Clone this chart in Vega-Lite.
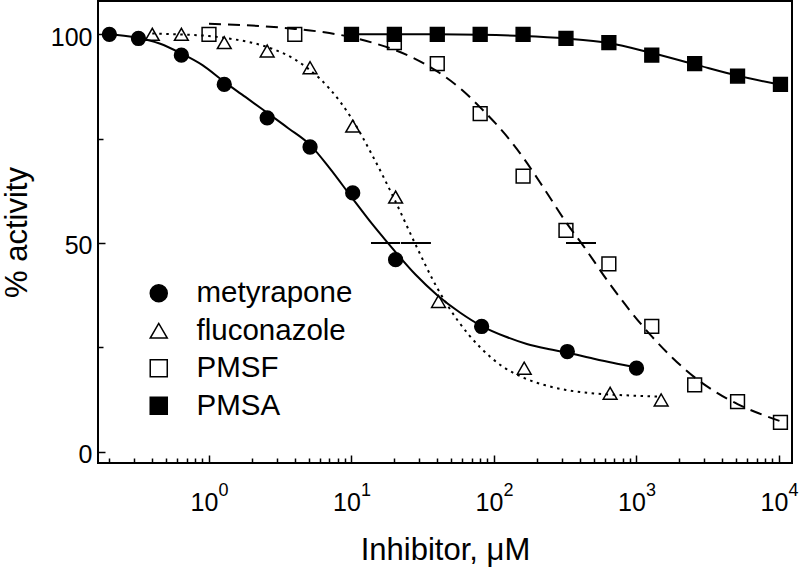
{
  "$schema": "https://vega.github.io/schema/vega-lite/v6.json",
  "width": 694,
  "height": 462,
  "autosize": {"type": "none"},
  "padding": {"left": 98, "top": 1, "right": 8, "bottom": 117},
  "background": "white",
  "config": {
    "font": "Liberation Sans",
    "view": {"stroke": "black", "strokeWidth": 2},
    "axis": {
      "domain": false, "grid": false, "tickColor": "black", "tickWidth": 1.5,
      "labelColor": "black", "titleColor": "black", "labelFont": "Liberation Sans",
      "labelFontSize": 25, "titleFont": "Liberation Sans", "titleFontWeight": "normal",
      "labelFlush": false, "labelOverlap": false, "labelBound": false
    },
    "legend": {
      "orient": "none", "legendX": 46, "legendY": 277.5, "padding": 0,
      "symbolSize": 290, "symbolStrokeColor": "black", "symbolStrokeWidth": 1.5, "symbolOpacity": 1,
      "labelFontSize": 29.5, "labelFont": "Liberation Sans", "labelColor": "black",
      "rowPadding": 6.5, "labelOffset": 23
    }
  },
  "datasets": {
    "points": [
      {"series": "metyrapone", "conc": 0.2, "pct": 100},
      {"series": "metyrapone", "conc": 0.32, "pct": 99},
      {"series": "metyrapone", "conc": 0.64, "pct": 95},
      {"series": "metyrapone", "conc": 1.28, "pct": 88},
      {"series": "metyrapone", "conc": 2.56, "pct": 80},
      {"series": "metyrapone", "conc": 5.12, "pct": 73},
      {"series": "metyrapone", "conc": 10.2, "pct": 62},
      {"series": "metyrapone", "conc": 20.4, "pct": 46},
      {"series": "metyrapone", "conc": 81.9, "pct": 30},
      {"series": "metyrapone", "conc": 327, "pct": 24},
      {"series": "metyrapone", "conc": 1000, "pct": 20},
      {"series": "fluconazole", "conc": 0.4, "pct": 100},
      {"series": "fluconazole", "conc": 0.64, "pct": 100},
      {"series": "fluconazole", "conc": 1.28, "pct": 98},
      {"series": "fluconazole", "conc": 2.56, "pct": 96},
      {"series": "fluconazole", "conc": 5.12, "pct": 92},
      {"series": "fluconazole", "conc": 10.2, "pct": 78},
      {"series": "fluconazole", "conc": 20.4, "pct": 61},
      {"series": "fluconazole", "conc": 40.8, "pct": 36},
      {"series": "fluconazole", "conc": 163, "pct": 20},
      {"series": "fluconazole", "conc": 653, "pct": 14},
      {"series": "fluconazole", "conc": 1490, "pct": 12.4},
      {"series": "PMSF", "conc": 1, "pct": 100},
      {"series": "PMSF", "conc": 4, "pct": 100},
      {"series": "PMSF", "conc": 20, "pct": 98},
      {"series": "PMSF", "conc": 40, "pct": 93},
      {"series": "PMSF", "conc": 80, "pct": 81},
      {"series": "PMSF", "conc": 160, "pct": 66},
      {"series": "PMSF", "conc": 320, "pct": 53},
      {"series": "PMSF", "conc": 640, "pct": 45},
      {"series": "PMSF", "conc": 1280, "pct": 30},
      {"series": "PMSF", "conc": 2560, "pct": 16},
      {"series": "PMSF", "conc": 5120, "pct": 12},
      {"series": "PMSF", "conc": 10240, "pct": 7},
      {"series": "PMSA", "conc": 10, "pct": 100},
      {"series": "PMSA", "conc": 20, "pct": 100},
      {"series": "PMSA", "conc": 40, "pct": 100},
      {"series": "PMSA", "conc": 80, "pct": 100},
      {"series": "PMSA", "conc": 160, "pct": 100},
      {"series": "PMSA", "conc": 320, "pct": 99},
      {"series": "PMSA", "conc": 640, "pct": 98},
      {"series": "PMSA", "conc": 1280, "pct": 95},
      {"series": "PMSA", "conc": 2560, "pct": 93},
      {"series": "PMSA", "conc": 5120, "pct": 90},
      {"series": "PMSA", "conc": 10240, "pct": 88}
    ],
    "curves": [
      {"series": "metyrapone", "conc": 0.2, "pct": 100},
      {"series": "metyrapone", "conc": 0.3, "pct": 99.3},
      {"series": "metyrapone", "conc": 0.45, "pct": 97.8},
      {"series": "metyrapone", "conc": 0.64, "pct": 95.4},
      {"series": "metyrapone", "conc": 0.9, "pct": 92.6},
      {"series": "metyrapone", "conc": 1.28, "pct": 88.6},
      {"series": "metyrapone", "conc": 1.8, "pct": 85},
      {"series": "metyrapone", "conc": 2.56, "pct": 81.2},
      {"series": "metyrapone", "conc": 3.6, "pct": 77.5},
      {"series": "metyrapone", "conc": 5.12, "pct": 73.5},
      {"series": "metyrapone", "conc": 7, "pct": 68},
      {"series": "metyrapone", "conc": 10, "pct": 61},
      {"series": "metyrapone", "conc": 14, "pct": 54.5},
      {"series": "metyrapone", "conc": 18, "pct": 50},
      {"series": "metyrapone", "conc": 20.4, "pct": 47.8},
      {"series": "metyrapone", "conc": 28, "pct": 42.5},
      {"series": "metyrapone", "conc": 40, "pct": 37.5},
      {"series": "metyrapone", "conc": 58, "pct": 33.3},
      {"series": "metyrapone", "conc": 82, "pct": 30.1},
      {"series": "metyrapone", "conc": 120, "pct": 27.6},
      {"series": "metyrapone", "conc": 170, "pct": 25.8},
      {"series": "metyrapone", "conc": 240, "pct": 24.6},
      {"series": "metyrapone", "conc": 330, "pct": 23.7},
      {"series": "metyrapone", "conc": 470, "pct": 22.5},
      {"series": "metyrapone", "conc": 680, "pct": 21.3},
      {"series": "metyrapone", "conc": 1000, "pct": 20.2},
      {"series": "fluconazole", "conc": 0.4, "pct": 100.2},
      {"series": "fluconazole", "conc": 0.7, "pct": 99.9},
      {"series": "fluconazole", "conc": 1, "pct": 99.6},
      {"series": "fluconazole", "conc": 1.5, "pct": 98.8},
      {"series": "fluconazole", "conc": 2, "pct": 98},
      {"series": "fluconazole", "conc": 3, "pct": 96.1},
      {"series": "fluconazole", "conc": 4, "pct": 94},
      {"series": "fluconazole", "conc": 5.12, "pct": 91.4},
      {"series": "fluconazole", "conc": 7, "pct": 87},
      {"series": "fluconazole", "conc": 10, "pct": 79.9},
      {"series": "fluconazole", "conc": 14, "pct": 71},
      {"series": "fluconazole", "conc": 20, "pct": 60.5},
      {"series": "fluconazole", "conc": 28, "pct": 49.8},
      {"series": "fluconazole", "conc": 40, "pct": 39.2},
      {"series": "fluconazole", "conc": 56, "pct": 31.3},
      {"series": "fluconazole", "conc": 80, "pct": 25},
      {"series": "fluconazole", "conc": 115, "pct": 20.4},
      {"series": "fluconazole", "conc": 162, "pct": 17.7},
      {"series": "fluconazole", "conc": 230, "pct": 15.9},
      {"series": "fluconazole", "conc": 320, "pct": 14.8},
      {"series": "fluconazole", "conc": 450, "pct": 14.1},
      {"series": "fluconazole", "conc": 645, "pct": 13.7},
      {"series": "fluconazole", "conc": 1000, "pct": 13.4},
      {"series": "fluconazole", "conc": 1490, "pct": 13.2},
      {"series": "PMSF", "conc": 1, "pct": 102.5},
      {"series": "PMSF", "conc": 2, "pct": 102.1},
      {"series": "PMSF", "conc": 4, "pct": 101.3},
      {"series": "PMSF", "conc": 7, "pct": 100.3},
      {"series": "PMSF", "conc": 10, "pct": 99.3},
      {"series": "PMSF", "conc": 15, "pct": 97.7},
      {"series": "PMSF", "conc": 20, "pct": 96.3},
      {"series": "PMSF", "conc": 30, "pct": 93.6},
      {"series": "PMSF", "conc": 40, "pct": 91.1},
      {"series": "PMSF", "conc": 60, "pct": 86.6},
      {"series": "PMSF", "conc": 80, "pct": 82.5},
      {"series": "PMSF", "conc": 120, "pct": 76},
      {"series": "PMSF", "conc": 160, "pct": 70.5},
      {"series": "PMSF", "conc": 230, "pct": 62.5},
      {"series": "PMSF", "conc": 320, "pct": 55},
      {"series": "PMSF", "conc": 420, "pct": 49.5},
      {"series": "PMSF", "conc": 640, "pct": 40.5},
      {"series": "PMSF", "conc": 900, "pct": 33.8},
      {"series": "PMSF", "conc": 1290, "pct": 27.5},
      {"series": "PMSF", "conc": 1800, "pct": 22.4},
      {"series": "PMSF", "conc": 2560, "pct": 17.8},
      {"series": "PMSF", "conc": 3600, "pct": 14.3},
      {"series": "PMSF", "conc": 5120, "pct": 11.4},
      {"series": "PMSF", "conc": 7200, "pct": 9.2},
      {"series": "PMSF", "conc": 10240, "pct": 7.3},
      {"series": "PMSA", "conc": 10, "pct": 100},
      {"series": "PMSA", "conc": 20, "pct": 100},
      {"series": "PMSA", "conc": 40, "pct": 100},
      {"series": "PMSA", "conc": 80, "pct": 99.9},
      {"series": "PMSA", "conc": 160, "pct": 99.6},
      {"series": "PMSA", "conc": 320, "pct": 99},
      {"series": "PMSA", "conc": 640, "pct": 97.9},
      {"series": "PMSA", "conc": 1280, "pct": 95.5},
      {"series": "PMSA", "conc": 2560, "pct": 92.8},
      {"series": "PMSA", "conc": 5120, "pct": 90.1},
      {"series": "PMSA", "conc": 10240, "pct": 87.9}
    ],
    "ic50": [
      {"series": "metyrapone", "lo": 13.7, "hi": 21.9, "pct": 50},
      {"series": "fluconazole", "lo": 22.2, "hi": 36.1, "pct": 50},
      {"series": "PMSF", "lo": 320, "hi": 520, "pct": 50}
    ]
  },
  "resolve": {"axis": {"x": "independent", "y": "independent"}},
  "layer": [
    {
      "data": {"name": "points"},
      "mark": {"type": "point", "filled": true, "stroke": "black", "strokeWidth": 1.5, "size": 190, "opacity": 1},
      "encoding": {
        "x": {
          "field": "conc", "type": "quantitative",
          "scale": {"type": "log", "domain": [0.1664, 12340], "nice": false},
          "axis": {
            "orient": "bottom",
            "values": [0.2, 0.3, 0.4, 0.5, 0.6, 0.7, 0.8, 0.9, 2, 3, 4, 5, 6, 7, 8, 9, 20, 30, 40, 50, 60, 70, 80, 90, 200, 300, 400, 500, 600, 700, 800, 900, 2000, 3000, 4000, 5000, 6000, 7000, 8000, 9000],
            "tickSize": -5, "labels": false, "title": null
          }
        },
        "y": {
          "field": "pct", "type": "quantitative",
          "scale": {"domain": [-2.71, 107.98], "nice": false, "zero": false},
          "axis": {"orient": "left", "values": [25, 75], "tickSize": -5, "labels": false, "title": null}
        },
        "shape": {
          "field": "series", "type": "nominal", "title": null,
          "scale": {"domain": ["metyrapone", "fluconazole", "PMSF", "PMSA"], "range": ["circle", "triangle-up", "square", "square"]},
          "legend": {"encode": {"symbols": {"update": {"stroke": {"value": "black"}, "strokeWidth": {"value": 1.5}, "opacity": {"value": 1}}}}}
        },
        "fill": {
          "field": "series", "type": "nominal", "title": null,
          "scale": {"domain": ["metyrapone", "fluconazole", "PMSF", "PMSA"], "range": ["black", "white", "white", "black"]},
          "legend": {"encode": {"symbols": {"update": {"stroke": {"value": "black"}, "strokeWidth": {"value": 1.5}, "opacity": {"value": 1}}}}}
        }
      }
    },
    {
      "data": {"name": "curves"},
      "transform": [{"filter": "datum.series == 'metyrapone' || datum.series == 'PMSA'"}],
      "mark": {"type": "line", "color": "black", "strokeWidth": 2, "interpolate": "monotone"},
      "encoding": {
        "x": {
          "field": "conc", "type": "quantitative",
          "scale": {"type": "log", "domain": [0.1664, 12340], "nice": false},
          "axis": {
            "orient": "bottom", "values": [1, 10, 100, 1000, 10000], "tickSize": -8,
            "labelExpr": "'10'", "labelPadding": 35, "labelOffset": -5, "labelBaseline": "top",
            "title": "Inhibitor, μM", "titleFontSize": 31, "titlePadding": 20
          }
        },
        "y": {
          "field": "pct", "type": "quantitative",
          "scale": {"domain": [-2.71, 107.98], "nice": false, "zero": false},
          "axis": {
            "orient": "left", "values": [0, 50, 100], "tickSize": -7,
            "labelPadding": 13, "labelOffset": 3,
            "title": "% activity", "titleFontSize": 31, "titlePadding": 17
          }
        },
        "detail": {"field": "series", "type": "nominal"}
      }
    },
    {
      "data": {"name": "curves"},
      "transform": [{"filter": "datum.series == 'fluconazole'"}],
      "mark": {"type": "line", "color": "black", "strokeWidth": 2, "strokeDash": [2.5, 4.5], "interpolate": "monotone"},
      "encoding": {
        "x": {"field": "conc", "type": "quantitative", "scale": {"type": "log", "domain": [0.1664, 12340], "nice": false}, "axis": null},
        "y": {"field": "pct", "type": "quantitative", "scale": {"domain": [-2.71, 107.98], "nice": false, "zero": false}, "axis": null}
      }
    },
    {
      "data": {"name": "curves"},
      "transform": [{"filter": "datum.series == 'PMSF'"}],
      "mark": {"type": "line", "color": "black", "strokeWidth": 2, "strokeDash": [12, 7], "interpolate": "monotone"},
      "encoding": {
        "x": {"field": "conc", "type": "quantitative", "scale": {"type": "log", "domain": [0.1664, 12340], "nice": false}, "axis": null},
        "y": {"field": "pct", "type": "quantitative", "scale": {"domain": [-2.71, 107.98], "nice": false, "zero": false}, "axis": null}
      }
    },
    {
      "data": {"name": "ic50"},
      "mark": {"type": "rule", "color": "black", "strokeWidth": 2},
      "encoding": {
        "x": {
          "field": "lo", "type": "quantitative",
          "scale": {"type": "log", "domain": [0.1664, 12340], "nice": false},
          "axis": {
            "orient": "bottom", "values": [1, 10, 100, 1000, 10000], "ticks": false,
            "labelExpr": "format(log(datum.value)/LN10, '.0f')", "labelFontSize": 18,
            "labelPadding": 18, "labelOffset": 14, "labelBaseline": "top", "title": null
          }
        },
        "x2": {"field": "hi"},
        "y": {
          "field": "pct", "type": "quantitative",
          "scale": {"domain": [-2.71, 107.98], "nice": false, "zero": false},
          "axis": null
        }
      }
    }
  ]
}
